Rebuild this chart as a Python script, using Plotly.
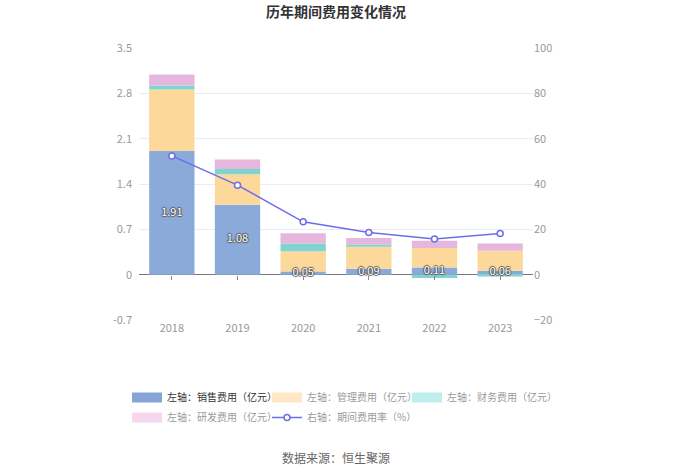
import plotly.graph_objects as go

years = ["2018", "2019", "2020", "2021", "2022", "2023"]
sales = [1.91, 1.08, 0.05, 0.09, 0.11, 0.06]
admin = [0.95, 0.47, 0.31, 0.34, 0.30, 0.31]
finance = [0.06, 0.08, 0.12, 0.035, -0.05, -0.03]
rnd = [0.17, 0.15, 0.16, 0.10, 0.115, 0.11]
rate = [52.4, 39.5, 23.3, 18.6, 15.7, 18.2]

left_ticks = [-0.7, 0, 0.7, 1.4, 2.1, 2.8, 3.5]
left_labels = ["-0.7", "0", "0.7", "1.4", "2.1", "2.8", "3.5"]
right_ticks = [-20, 0, 20, 40, 60, 80, 100]

names = ["左轴：销售费用（亿元）", "左轴：管理费用（亿元）", "左轴：财务费用（亿元）",
         "左轴：研发费用（亿元）", "右轴：期间费用率（%）"]

bar_colors = ["#8aaad9", "#fdd89b", "#7fd4d0", "#e6b7de"]
legend_colors = ["#85a5d8", "#ffe6c4", "#bfeeee", "#f5d8ef"]
line_color = "#6e6ee8"

W, H = 700, 474
L, R, T, B = 139, 167, 48, 154
PH = H - T - B
PW = W - L - R
Y0 = H - B  # pixel of plot bottom

legend_ids = ["legend", "legend2", "legend3", "legend4", "legend5"]
# (left px, top px) of each legend entry box
legend_pos = [(127, 383), (267, 383), (407, 383), (127, 403), (267, 403)]

fig = go.Figure()
series = [sales, admin, finance, rnd]
for vals, c in zip(series, bar_colors):
    fig.add_trace(go.Bar(x=years, y=vals, marker=dict(color=c, line=dict(width=0)),
                         showlegend=False, hoverinfo="skip"))

# legend-only proxies (pale like the reference legend), drawn as thick line swatches
for i, c in enumerate(legend_colors):
    col = "#333333" if i == 0 else "#9a9a9a"
    fig.add_trace(go.Scatter(x=[None], y=[None], mode="lines",
                             line=dict(color=c, width=11), legend=legend_ids[i],
                             name=f"<span style='color:{col}'>{names[i]}</span>"))

fig.add_trace(go.Scatter(x=years, y=rate, yaxis="y2", mode="lines+markers",
                         line=dict(color=line_color, width=1.5),
                         marker=dict(symbol="circle", size=6, color="white",
                                     line=dict(color=line_color, width=1.5)),
                         legend=legend_ids[4], hoverinfo="skip",
                         name=f"<span style='color:#9a9a9a'>{names[4]}</span>"))

# value labels on sales bars (on an overlaid x axis that also draws the zero-line ticks)
fig.add_trace(go.Scatter(x=years, y=[v / 2 for v in sales], mode="text", xaxis="x2",
                         text=[f"{v:.2f}" for v in sales],
                         textfont=dict(color="white", size=11, family="Noto Sans CJK SC, sans-serif",
                                       shadow="1px 0 1px #555, -1px 0 1px #555, 0 1px 1px #555, 0 -1px 1px #555"),
                         showlegend=False, hoverinfo="skip"))

legends = {}
for lid, (px, py) in zip(legend_ids, legend_pos):
    legends[lid] = dict(orientation="h", x=(px - L) / PW, xanchor="left",
                        y=-(py - Y0) / PH, yanchor="top", xref="paper",
                        font=dict(size=10), bgcolor="rgba(0,0,0,0)")

fig.update_layout(
    width=W, height=H,
    margin=dict(l=L, r=R, t=T, b=B, autoexpand=False),
    paper_bgcolor="white", plot_bgcolor="white",
    barmode="relative", bargap=0.31,
    font=dict(family="Noto Sans CJK SC, sans-serif", size=11, color="#999999"),
    title=dict(text="<b>历年期间费用变化情况</b>", x=0.5, xref="paper", xanchor="center",
               yref="container", y=1 - 12 / H, yanchor="middle",
               font=dict(size=14, color="#333333")),
    xaxis=dict(type="category", range=[-0.5, 5.5], showgrid=False, showline=False, ticks="",
               tickfont=dict(size=11, color="#999999")),
    xaxis2=dict(type="category", range=[-0.5, 5.5], overlaying="x", anchor="free",
                position=(Y0 - 275) / PH, side="bottom", showgrid=False, showline=False,
                zeroline=False, showticklabels=False, ticks="outside", ticklen=4,
                tickcolor="#888888", tickwidth=1),
    yaxis=dict(range=[-0.7, 3.5], tickvals=left_ticks, ticktext=left_labels,
               showgrid=True, gridcolor="#e9ecf3", gridwidth=1,
               zeroline=True, zerolinecolor="#777777", zerolinewidth=1,
               showline=False, ticks="", ticklabelstandoff=6,
               tickfont=dict(size=11, color="#999999")),
    yaxis2=dict(range=[-20, 100], tickvals=right_ticks, overlaying="y", side="right",
                showgrid=False, zeroline=False, showline=False, ticks="",
                tickfont=dict(size=11, color="#999999")),
    annotations=[dict(text="数据来源：恒生聚源", x=0.5, xref="paper",
                      y=-(457 - Y0) / PH, yref="paper", yanchor="middle",
                      showarrow=False, font=dict(size=12, color="#666666"))],
    **legends,
)

fig.write_html("out.html", config={"displayModeBar": False},
               post_script="document.body.style.margin='0';")
